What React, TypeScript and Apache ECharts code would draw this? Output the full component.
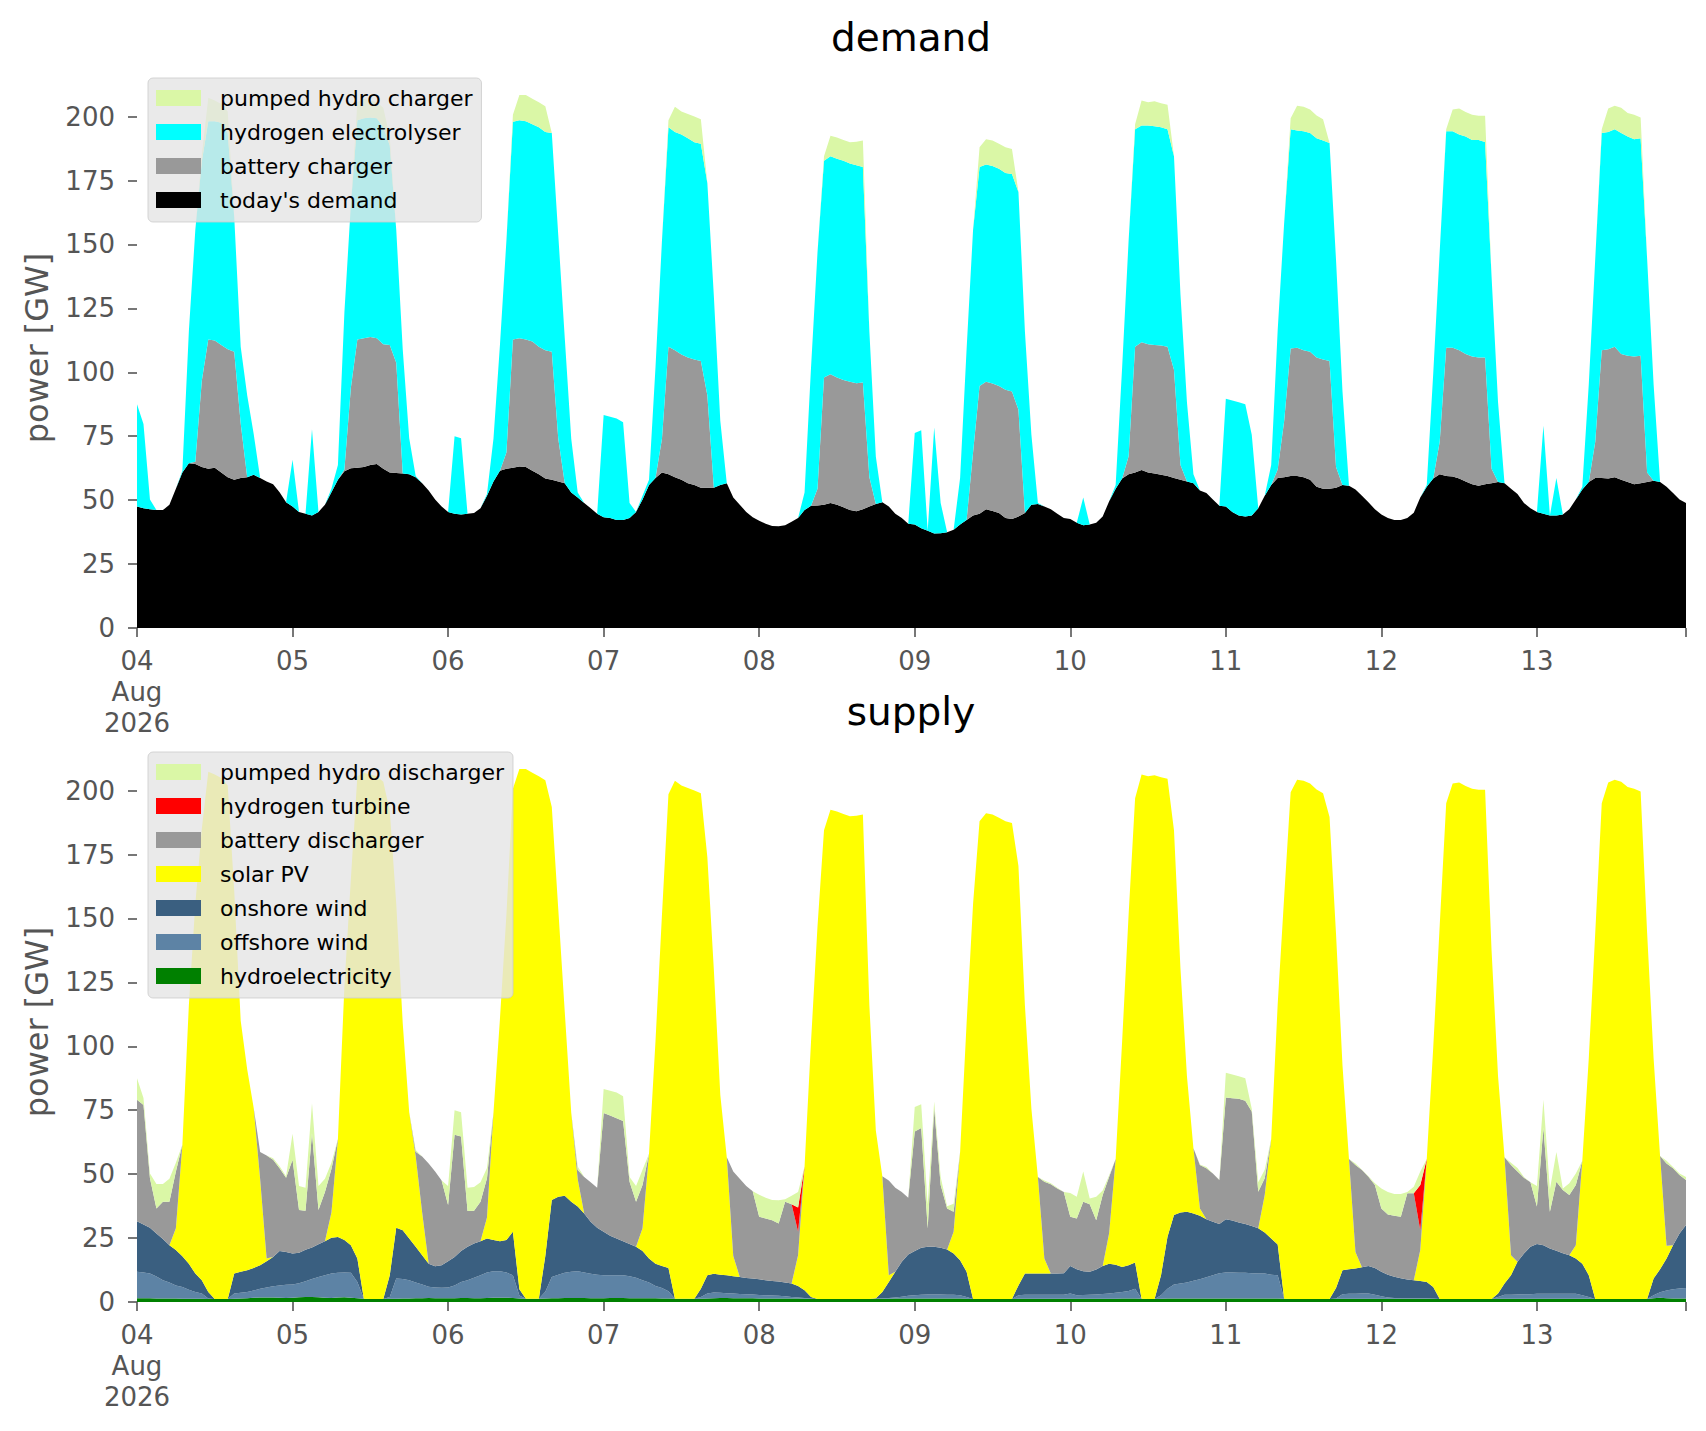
import React, { useEffect, useRef } from "react";
import * as echarts from "echarts";

// ---------- axis / tick labels ----------
const DAY_LABELS = ["04", "05", "06", "07", "08", "09", "10", "11", "12", "13"];
const FIRST_LABEL_SUFFIX = "\nAug\n2026";
const Y_TICKS = [0, 25, 50, 75, 100, 125, 150, 175, 200];
const HOURS_PER_DAY = 24;
const HOURS = Array.from({ length: DAY_LABELS.length * HOURS_PER_DAY }, (_, i) => String(i));

// ---------- DEMAND panel (levels, GW; 0 = layer absent) ----------
const TODAYS_DEMAND = [
  [47.5,46.8,46.4,46.1,46.1,48.2,54.5,60.8,64.4,64.1,63.0,62.3,62.7,60.8,59.0,58.0,58.7,59.0,59.9,58.7,57.3,56.2,53.1,49.2],
  [47.5,45.4,44.7,44.0,45.4,48.2,53.1,58.0,61.3,62.5,62.7,63.0,63.7,64.1,62.3,60.8,60.6,60.4,60.1,59.0,56.6,53.8,50.3,47.5],
  [45.4,44.7,44.4,44.7,45.0,46.8,51.7,57.3,61.5,62.3,62.7,63.2,63.0,61.5,60.1,58.5,58.0,57.3,56.6,53.0,51.0,48.9,46.8,44.7],
  [43.3,43.0,42.2,42.2,43.0,45.4,50.3,55.9,58.7,60.8,60.1,59.0,58.0,56.6,55.9,54.8,54.8,54.8,55.9,56.6,51.0,48.2,45.4,43.3],
  [41.9,40.8,39.9,39.8,40.2,41.6,43.0,46.1,47.8,47.9,48.2,48.9,48.2,47.2,46.1,45.7,46.4,47.5,48.5,49.2,47.5,44.7,43.0,40.8],
  [40.5,39.0,38.0,37.0,37.1,37.4,38.4,40.5,42.2,44.0,44.7,46.4,45.8,45.0,43.0,42.6,43.6,45.0,48.2,48.5,47.5,46.4,44.7,43.0],
  [42.6,41.2,40.2,40.5,41.2,43.6,49.6,54.5,58.5,60.1,60.8,61.8,60.8,60.4,59.9,59.4,58.7,58.0,57.3,56.6,53.8,52.8,50.3,47.8],
  [47.5,45.4,44.0,43.6,44.0,46.8,51.7,55.9,58.7,59.0,59.4,59.4,59.0,58.0,55.2,54.5,54.5,54.8,55.9,55.6,54.2,51.7,49.2,46.4],
  [44.4,43.0,42.2,42.2,43.0,45.1,51.0,55.2,58.5,60.1,59.4,59.2,58.5,57.3,56.2,55.6,56.2,56.6,57.1,56.6,54.5,52.4,48.9,46.8],
  [45.4,44.7,44.0,44.0,44.4,46.4,50.3,54.2,57.1,58.7,58.7,58.5,59.0,58.0,57.1,56.2,56.6,57.1,57.6,57.1,55.2,52.8,50.3,48.9],
].flat();

const BATTERY_CHARGER_LEVEL = [
  [0,0,0,0,0,0,0,0,0,65,96.7,112.8,112.4,110.7,109,108,80,0,0,0,0,0,0,0],
  [0,0,0,0,0,0,0,0,62,94,112.8,113.3,113.8,113.3,111,110.7,103.7,0,0,0,0,0,0,0],
  [0,0,0,0,0,0,0,0,0,68.6,112.8,113.3,112.8,112,110,108.6,108,74,0,0,0,0,0,0],
  [0,0,0,0,0,0,0,0,0,74,110,108.6,107,105.8,105,104.4,91,0,0,0,0,0,0,0],
  [0,0,0,0,0,0,0,0,0,54.5,98,99.2,98,97,96.3,95.7,96,59,0,0,0,0,0,0],
  [0,0,0,0,0,0,0,0,0,68.6,94.6,96.3,95.6,94.6,93.2,92.5,85.4,0,0,0,0,0,0,0],
  [0,0,0,0,0,0,0,0,0,67.2,110,111.7,111,110.7,110.5,110,101,63.7,0,0,0,0,0,0],
  [0,0,0,0,0,0,0,0,62,81,109.3,109.6,108.6,108,105.8,105,104.4,63,0,0,0,0,0,0],
  [0,0,0,0,0,0,0,0,0,72.8,109.6,109.6,108.6,107.2,106.2,105.8,105.8,62.3,0,0,0,0,0,0],
  [0,0,0,0,0,0,0,0,0,72.8,108.6,109,110,107.2,106.5,106.2,106.5,60.8,0,0,0,0,0,0],
].flat();

const ELECTROLYSER_LEVEL = [
  [87.5,79.8,50.3,0,0,0,0,61.5,116,155.7,182.4,198.2,198.2,197.6,193.6,160.8,110,91,76,0,0,0,0,0],
  [65.8,0,0,77.7,0,0,54.5,63.7,123.4,165.5,198.6,199.3,199.6,199.3,195.8,188.7,155.7,109,74.2,59.4,0,0,0,0],
  [0,75,74.2,0,0,0,52.4,74,110.7,151.5,198,198.6,198.2,197,195.8,194,193.6,153.6,113.5,74,53,0,0,0],
  [83.3,82.6,81.9,80.5,48.9,0,51.7,58,102,151.5,195.8,194,193,191.5,190,189.4,174,130,81,0,0,0,0,0],
  [0,0,0,0,0,0,0,53,102,147,182.7,184.5,183.5,182.7,181.7,181,180.3,116,67,0,0,0,0,0],
  [76.3,77.3,0,78.4,48.9,0,0,58.7,109,155.7,180.3,181.3,180.7,179.6,177.9,177.5,170.5,116,75.6,48.9,0,0,0,0],
  [0,0,51,0,0,0,0,55.9,102,151.5,195,196.5,196.5,196.2,195.8,195,184.5,130.4,88.3,60.1,0,0,0,0],
  [89.7,89,88.3,87.5,75.6,0,0,63.7,116.4,158.5,195,194.6,194.3,193.6,191.5,190.6,189.7,144,92.5,0,0,0,0,0],
  [0,0,0,0,0,0,0,55.9,99.5,147.3,194.3,194.3,193,192.2,190.8,190.8,190.1,137.5,88.3,0,0,0,0,0],
  [0,79.1,0,58.7,0,0,0,55.2,95.3,144.5,193.6,194,195,193.6,192.2,191.1,191.5,144.5,95.3,0,0,0,0,0],
].flat();

const PUMPED_CHARGER_LEVEL = [
  [0,0,0,0,0,0,0,0,0,0,185,207.4,206.3,204.9,202,0,0,0,0,0,0,0,0,0],
  [0,0,0,0,0,0,0,0,0,0,205.6,207,206.3,205.6,203.5,192,0,0,0,0,0,0,0,0],
  [0,0,0,0,0,0,0,0,0,0,200.7,208.4,208.4,207,205.6,204,0,0,0,0,0,0,0,0],
  [0,0,0,0,0,0,0,0,0,0,198.6,203.8,202,201,200,199,0,0,0,0,0,0,0,0],
  [0,0,0,0,0,0,0,0,0,0,184.5,192.5,191.8,190.8,190,190.2,190.6,0,0,0,0,0,0,0],
  [0,0,0,0,0,0,0,0,0,0,188,191.1,190.6,189.4,188,187.3,0,0,0,0,0,0,0,0],
  [0,0,0,0,0,0,0,0,0,0,197,206.3,205.6,206,205.2,204.6,0,0,0,0,0,0,0,0],
  [0,0,0,0,0,0,0,0,0,0,199.3,204.2,203.8,202.8,200.4,199,0,0,0,0,0,0,0,0],
  [0,0,0,0,0,0,0,0,0,0,195,202.8,203.2,201.8,200.7,200.3,200.3,0,0,0,0,0,0,0],
  [0,0,0,0,0,0,0,0,0,0,195,203.2,204.2,203.5,201.4,200.7,199.6,0,0,0,0,0,0,0],
].flat();

// ---------- SUPPLY panel (levels, GW; 0 = layer absent) ----------
const HYDRO = [
  [1.5,1.5,1.5,1.4,1.4,1.4,1.4,1.3,1.3,1.3,1.3,1.2,1.2,1.2,1.2,1.3,1.4,1.5,1.7,1.8,1.8,1.8,1.7,1.6],
  [1.7,1.9,2.0,2.0,1.9,1.7,1.6,1.8,1.9,1.7,1.5,1.3,1.2,1.2,1.2,1.3,1.3,1.4,1.4,1.5,1.5,1.6,1.5,1.5],
  [1.5,1.5,1.6,1.6,1.5,1.5,1.6,1.7,1.7,1.7,1.6,1.4,1.3,1.3,1.3,1.4,1.5,1.5,1.6,1.6,1.6,1.6,1.5,1.5],
  [1.5,1.6,1.6,1.6,1.5,1.5,1.5,1.5,1.5,1.4,1.4,1.3,1.3,1.3,1.3,1.3,1.4,1.5,1.6,1.6,1.5,1.5,1.5,1.5],
  [1.4,1.4,1.4,1.4,1.4,1.4,1.4,1.3,1.3,1.2,1.2,1.2,1.2,1.2,1.2,1.2,1.2,1.2,1.3,1.3,1.3,1.4,1.4,1.4],
  [1.4,1.4,1.4,1.4,1.4,1.4,1.4,1.4,1.3,1.2,1.2,1.2,1.2,1.2,1.2,1.2,1.3,1.3,1.3,1.3,1.3,1.3,1.3,1.3],
  [1.3,1.3,1.3,1.3,1.3,1.3,1.3,1.3,1.4,1.4,1.4,1.3,1.2,1.2,1.3,1.4,1.4,1.4,1.4,1.4,1.4,1.4,1.4,1.4],
  [1.4,1.4,1.4,1.4,1.4,1.4,1.4,1.4,1.4,1.3,1.2,1.2,1.2,1.2,1.2,1.2,1.2,1.3,1.3,1.3,1.3,1.3,1.3,1.3],
  [1.3,1.3,1.3,1.3,1.3,1.3,1.3,1.3,1.3,1.2,1.2,1.2,1.2,1.2,1.2,1.2,1.2,1.2,1.3,1.3,1.3,1.3,1.3,1.3],
  [1.3,1.3,1.3,1.3,1.3,1.3,1.3,1.3,1.3,1.2,1.2,1.2,1.2,1.2,1.2,1.2,1.2,1.2,1.5,1.7,1.5,1.4,1.4,1.4],
].flat();

const OFFSHORE_LEVEL = [
  [11.8,11.5,11.1,10.0,8.5,7.6,6.5,5.9,4.8,3.9,3.3,1.4,0,0,0,3.3,3.6,3.9,4.5,5.2,5.7,6.2,6.5,6.7],
  [6.8,7.3,8.1,9.0,9.8,10.5,11.1,11.4,11.5,11.4,7.8,0,0,0,0,2.0,9.2,9.0,8.5,7.6,6.8,6.0,5.7,5.6],
  [5.7,6.5,7.8,8.5,9.5,10.5,11.5,12.0,12.0,11.5,10.5,2.5,0,0,0,4.0,9.8,10.7,11.4,11.8,12.0,11.5,11.0,10.7],
  [10.5,10.5,10.5,10.5,10.1,9.5,8.5,7.6,6.3,5.5,4.2,0,0,0,0,2.0,3.3,3.7,3.6,3.4,3.3,3.1,3.0,2.9],
  [2.7,2.6,2.5,2.4,2.2,2.0,1.8,1.6,1.4,0,0,0,0,0,0,0,0,0,1.4,1.5,1.6,1.8,2.1,2.4],
  [2.6,2.8,2.9,2.9,2.9,2.8,2.8,2.6,2.0,0,0,0,0,0,0,0,2.6,2.8,2.8,2.8,2.8,2.8,2.8,2.8],
  [3.3,2.6,2.7,2.8,2.9,3.1,3.3,3.6,3.9,4.3,5.2,0,0,0,2.6,5.2,6.8,7.2,7.6,8.3,8.9,9.7,10.5,11.2],
  [11.5,11.5,11.4,11.4,11.2,11.1,11.1,10.7,10.5,0,0,0,0,0,0,0,0,1.4,3.0,3.2,3.2,3.3,3.3,2.8],
  [2.2,1.8,1.6,1.5,1.5,1.5,1.5,1.5,1.4,0,0,0,0,0,0,0,0,0,2.0,2.8,2.8,2.9,3.0,3.0],
  [3.2,3.2,3.2,3.2,3.2,3.2,3.2,2.6,2.0,0,0,0,0,0,0,0,0,0,2.6,3.8,4.5,5.0,5.3,5.5],
].flat();

const ONSHORE_LEVEL = [
  [31.6,30.3,29.0,26.8,24.6,22.2,20.3,17.9,15.0,11.1,8.5,3.9,0,0,0,11.1,11.8,12.4,13.3,14.4,15.9,17.6,19.9,19.6],
  [19.0,19.3,20.4,21.3,22.6,23.8,25.1,25.4,24.2,22.2,17.0,0,0,0,0,10.5,29.0,28.1,24.8,21.6,18.3,15.0,14.0,14.4],
  [15.9,17.6,19.9,21.6,22.9,23.8,24.8,24.2,23.8,24.2,27.5,5.0,0,0,0,18.0,39.9,41.2,41.6,39.2,37.3,34.6,31.4,29.0],
  [27.5,25.9,24.8,23.8,22.7,21.6,19.9,17.0,15.0,14.1,13.3,0,0,0,0,5.2,10.5,11.0,10.7,10.5,10.1,9.8,9.4,9.2],
  [8.9,8.5,8.2,8.0,7.6,7.2,6.3,4.6,2.0,0,0,0,0,0,0,0,0,0,1.5,3.9,7.8,11.8,15.7,18.6],
  [19.9,21.2,21.6,21.6,21.2,20.5,19.0,16.3,11.8,0,0,0,0,0,0,0,6.5,11.1,11.1,11.1,11.1,11.1,11.1,11.2],
  [14.1,12.8,12.0,11.8,12.7,14.1,15.0,14.6,13.7,14.4,15.4,0,0,0,10.5,25.5,34.0,35.0,35.3,34.6,33.7,32.4,31.4,30.5],
  [32.4,31.9,31.1,30.5,29.7,28.8,27.2,24.8,22.5,0,0,0,0,0,0,0,0,5.5,12.4,12.8,13.1,13.6,14.1,13.3],
  [11.8,10.7,9.9,9.3,8.8,8.5,8.2,7.8,5.9,0,0,0,0,0,0,0,0,0,3.3,7.2,10.5,15.7,19.0,21.6],
  [22.7,22.2,20.9,20.0,19.1,18.3,17.0,15.0,10.5,0,0,0,0,0,0,0,0,0,9.2,12.8,17.0,22.2,26.8,30.1],
].flat();

const SOLAR_LEVEL = [
  [0,0,0,0,0,0,28.8,61.5,116,155.7,185,207.4,206.3,204.9,202,160.8,110,91,76,48,17,0,0,0],
  [0,0,0,0,0,0,35,63.7,123.4,165.5,205.6,207,206.3,205.6,203.5,192,155.7,109,74.2,57,35,0,0,0],
  [0,0,0,0,0,0,33,74,110.7,151.5,200.7,208.4,208.4,207,205.6,204,193.6,153.6,113.5,74,48,0,0,0],
  [0,0,0,0,0,0,28.8,58,102,151.5,198.6,203.8,202,201,200,199,174,130,81,56.6,18,0,0,0],
  [0,0,0,0,0,0,18.3,53,102,147,184.5,192.5,191.8,190.8,190,190.2,190.6,116,67,49.2,10.5,0,0,0],
  [0,0,0,0,0,0,27.5,58.7,109,155.7,188,191.1,190.6,189.4,188,187.3,170.5,116,75.6,48.9,17,0,0,0],
  [0,0,0,0,0,0,27,55.9,102,151.5,197,206.3,205.6,206,205.2,204.6,184.5,130.4,88.3,60.1,36.6,0,0,0],
  [0,0,0,0,0,0,41.8,63.7,116.4,158.5,199.3,204.2,203.8,202.8,200.4,199,189.7,144,92.5,55.9,19.6,0,0,0],
  [0,0,0,0,0,0,20.3,55.9,99.5,147.3,195,202.8,203.2,201.8,200.7,200.3,200.3,137.5,88.3,56.6,18.3,0,0,0],
  [0,0,0,0,0,0,22.2,55.2,95.3,144.5,195,203.2,204.2,203.5,201.4,200.7,199.6,144.5,95.3,57.1,22,0,0,0],
].flat();

const BATTERY_DISCHARGER_LEVEL = [
  [79.1,77,48.4,36.6,39.2,39.2,51,0,0,0,0,0,0,0,0,0,0,0,0,58.7,57.3,55.6,52.3,48.6],
  [55.6,36,35.7,66,36,43,52,0,0,0,0,0,0,0,0,0,0,0,0,58.8,56.9,54.2,51,47.5],
  [37.9,65.4,64.7,35.6,35.7,39.2,48.4,0,0,0,0,0,0,0,0,0,0,0,0,0,51.6,48.9,46.8,44.7],
  [73.9,72.9,71.9,70.8,47,39.2,45.8,0,0,0,0,0,0,0,0,0,0,0,0,56.6,51,48.2,45.4,43.3],
  [33.3,32.7,32,30.7,39.2,38.2,27.5,0,0,0,0,0,0,0,0,0,0,0,0,49.2,47.5,44.7,43,40.8],
  [66.7,68,28.8,75.8,45.8,36.6,35.3,0,0,0,0,0,0,0,0,0,0,0,0,48.9,47,46,44.4,43],
  [33.3,32.7,39.2,38.2,32,41.8,49,0,0,0,0,0,0,0,0,0,0,0,0,60.1,53.6,52.3,50.3,47.7],
  [80,79.7,79.5,78.7,74.5,43.1,48.4,0,0,0,0,0,0,0,0,0,0,0,0,55.9,53.6,51.6,49,45.8],
  [36.6,34.2,33.7,33.3,42.5,42.5,28.1,0,0,0,0,0,0,0,0,0,0,0,0,56.6,53.6,51,48.6,46.8],
  [37.3,68,35.3,47,43.8,41.8,45.8,0,0,0,0,0,0,0,0,0,0,0,0,57.1,54.2,52.3,49.7,47.7],
].flat();

const HYDROGEN_TURBINE_LEVEL = [
  [0,0,0,0,0,0,0,0,0,0,0,0,0,0,0,0,0,0,0,0,0,0,0,0],
  [0,0,0,0,0,0,0,0,0,0,0,0,0,0,0,0,0,0,0,0,0,0,0,0],
  [0,0,0,0,0,0,0,0,0,0,0,0,0,0,0,0,0,0,0,0,0,0,0,0],
  [0,0,0,0,0,0,0,0,0,0,0,0,0,0,0,0,0,0,0,0,0,0,0,0],
  [0,0,0,0,0,0,37,0,0,0,0,0,0,0,0,0,0,0,0,0,0,0,0,0],
  [0,0,0,0,0,0,0,0,0,0,0,0,0,0,0,0,0,0,0,0,0,0,0,0],
  [0,0,0,0,0,0,0,0,0,0,0,0,0,0,0,0,0,0,0,0,0,0,0,0],
  [0,0,0,0,0,0,0,0,0,0,0,0,0,0,0,0,0,0,0,0,0,0,0,0],
  [0,0,0,0,0,0,45.8,0,0,0,0,0,0,0,0,0,0,0,0,0,0,0,0,0],
  [0,0,0,0,0,0,0,0,0,0,0,0,0,0,0,0,0,0,0,0,0,0,0,0],
].flat();

const PUMPED_DISCHARGER_LEVEL = [
  [87.5,79.8,50.3,46.1,46.1,48.2,54.5,0,0,0,0,0,0,0,0,0,0,0,0,58.7,57.3,56.2,53.1,49.2],
  [65.8,45.4,44.7,77.7,45.4,48.2,54.5,0,0,0,0,0,0,0,0,0,0,0,0,59.4,56.6,53.8,50.3,47.5],
  [45.4,75,74.2,44.7,45,46.8,52.4,0,0,0,0,0,0,0,0,0,0,0,0,74,53,48.9,46.8,44.7],
  [83.3,82.6,81.9,80.5,48.9,45.4,51.7,0,0,0,0,0,0,0,0,0,0,0,0,56.6,51,48.2,45.4,43.3],
  [41.9,40.8,39.9,39.8,40.2,41.6,43,0,0,0,0,0,0,0,0,0,0,0,0,49.2,47.5,44.7,43,40.8],
  [76.3,77.3,38,78.4,48.9,37.4,38.4,0,0,0,0,0,0,0,0,0,0,0,0,48.9,47.5,46.4,44.7,43],
  [42.6,41.2,51,40.5,41.2,43.6,49.6,0,0,0,0,0,0,0,0,0,0,0,0,60.1,53.8,52.8,50.3,47.8],
  [89.7,89,88.3,87.5,75.6,46.8,51.7,0,0,0,0,0,0,0,0,0,0,0,0,55.9,54.2,51.7,49.2,46.4],
  [44.4,43,42.2,42.2,43,45.1,51,0,0,0,0,0,0,0,0,0,0,0,0,56.6,54.5,52.4,48.9,46.8],
  [45.4,79.1,44,58.7,44.4,46.4,50.3,0,0,0,0,0,0,0,0,0,0,0,0,57.1,55.2,52.8,50.3,48.9],
].flat();

// ---------- styling ----------
const FONT = "DejaVu Sans";
const TICK_GRAY = "#555555";
const Y_MAX = 219;
const GRID_LEFT = 137;
const GRID_RIGHT = 20;
const GRID_HEIGHT = 560;
const PANEL_TOPS = [68, 742];

const DEMAND_LAYERS = [
  { name: "today's demand", color: "#000000", level: TODAYS_DEMAND },
  { name: "battery charger", color: "#999999", level: BATTERY_CHARGER_LEVEL },
  { name: "hydrogen electrolyser", color: "#00FFFF", level: ELECTROLYSER_LEVEL },
  { name: "pumped hydro charger", color: "#DAF7A6", level: PUMPED_CHARGER_LEVEL },
];

const SUPPLY_LAYERS = [
  { name: "hydroelectricity", color: "#008000", level: HYDRO },
  { name: "offshore wind", color: "#5D83A5", level: OFFSHORE_LEVEL },
  { name: "onshore wind", color: "#3A5F80", level: ONSHORE_LEVEL },
  { name: "solar PV", color: "#FFFF00", level: SOLAR_LEVEL },
  { name: "battery discharger", color: "#999999", level: BATTERY_DISCHARGER_LEVEL },
  { name: "hydrogen turbine", color: "#FF0000", level: HYDROGEN_TURBINE_LEVEL },
  { name: "pumped hydro discharger", color: "#DAF7A6", level: PUMPED_DISCHARGER_LEVEL },
];

// Convert cumulative levels into stacked layer sizes.
function toLayerValues(levels: number[][]): number[][] {
  const n = levels[0].length;
  const out = levels.map(() => new Array(n).fill(0));
  for (let i = 0; i < n; i++) {
    let base = 0;
    for (let k = 0; k < levels.length; k++) {
      const top = Math.max(base, levels[k][i] || 0);
      out[k][i] = Math.round((top - base) * 100) / 100;
      base = top;
    }
  }
  return out;
}

function buildSeries(layers: any[], panel: number) {
  const values = toLayerValues(layers.map((l) => l.level));
  return layers.map((l, k) => ({
    type: "line",
    name: l.name,
    xAxisIndex: panel,
    yAxisIndex: panel,
    stack: "panel" + panel,
    data: values[k],
    symbol: "none",
    showSymbol: false,
    smooth: false,
    lineStyle: { width: 0, opacity: 0 },
    itemStyle: { color: l.color },
    areaStyle: { color: l.color, opacity: 1 },
    emphasis: { disabled: true },
    silent: true,
  }));
}

function xAxis(panel: number) {
  return {
    type: "category",
    gridIndex: panel,
    data: HOURS,
    boundaryGap: false,
    axisLine: { show: false },
    axisTick: {
      show: true,
      length: 9,
      interval: (i: number) => i % HOURS_PER_DAY === 0 || i === HOURS.length - 1,
      lineStyle: { color: TICK_GRAY, width: 1.6 },
    },
    axisLabel: {
      interval: (i: number) => i % HOURS_PER_DAY === 0,
      formatter: (v: string) => {
        const d = Math.floor(Number(v) / HOURS_PER_DAY);
        return d === 0 ? DAY_LABELS[0] + FIRST_LABEL_SUFFIX : DAY_LABELS[d];
      },
      color: TICK_GRAY,
      fontFamily: FONT,
      fontSize: 26,
      lineHeight: 31,
      margin: 17,
    },
    splitLine: { show: false },
  };
}

function yAxis(panel: number) {
  return {
    type: "value",
    gridIndex: panel,
    min: 0,
    max: Y_MAX,
    interval: 25,
    axisLine: { show: false },
    axisTick: {
      show: true,
      length: 9,
      customValues: Y_TICKS,
      lineStyle: { color: TICK_GRAY, width: 1.6 },
    },
    axisLabel: {
      customValues: Y_TICKS,
      color: TICK_GRAY,
      fontFamily: FONT,
      fontSize: 26,
      margin: 22,
    },
    splitLine: { show: false },
    name: "power [GW]",
    nameLocation: "middle",
    nameGap: 84,
    nameTextStyle: { color: TICK_GRAY, fontFamily: FONT, fontSize: 32 },
  };
}

function legend(layers: any[], top: number) {
  return {
    orient: "vertical",
    left: 148,
    top,
    data: layers.map((l) => l.name).reverse(),
    icon: "rect",
    itemWidth: 45,
    itemHeight: 16,
    itemGap: 12,
    padding: [9, 9, 11, 8],
    backgroundColor: "rgba(229,229,229,0.8)",
    borderColor: "rgba(204,204,204,0.8)",
    borderWidth: 1,
    borderRadius: 5,
    selectedMode: false,
    textStyle: {
      color: "#000000",
      fontFamily: FONT,
      fontSize: 22,
      lineHeight: 22,
      padding: [0, 0, 0, 14],
    },
  };
}

const option = {
  animation: false,
  backgroundColor: "#ffffff",
  textStyle: { fontFamily: FONT },
  title: [
    { text: "demand", left: 911, top: 18, textAlign: "center", padding: 0,
      textStyle: { fontFamily: FONT, fontSize: 39, fontWeight: "normal", color: "#000000" } },
    { text: "supply", left: 911, top: 18 + PANEL_TOPS[1] - PANEL_TOPS[0], textAlign: "center", padding: 0,
      textStyle: { fontFamily: FONT, fontSize: 39, fontWeight: "normal", color: "#000000" } },
  ],
  grid: PANEL_TOPS.map((top) => ({ left: GRID_LEFT, right: GRID_RIGHT, top, height: GRID_HEIGHT })),
  xAxis: [xAxis(0), xAxis(1)],
  yAxis: [yAxis(0), yAxis(1)],
  legend: [legend(DEMAND_LAYERS, PANEL_TOPS[0] + 10), legend(SUPPLY_LAYERS, PANEL_TOPS[1] + 10)],
  series: [...buildSeries(DEMAND_LAYERS, 0), ...buildSeries(SUPPLY_LAYERS, 1)],
};

export default function App() {
  const ref = useRef<HTMLDivElement>(null);
  useEffect(() => {
    const chart = echarts.init(ref.current as HTMLDivElement, undefined, { renderer: "svg" });
    chart.setOption(option as any);
    return () => chart.dispose();
  }, []);
  return (
    <div
      ref={ref}
      style={{ position: "absolute", left: 0, top: 0, width: 1706, height: 1431, background: "#ffffff" }}
    />
  );
}
